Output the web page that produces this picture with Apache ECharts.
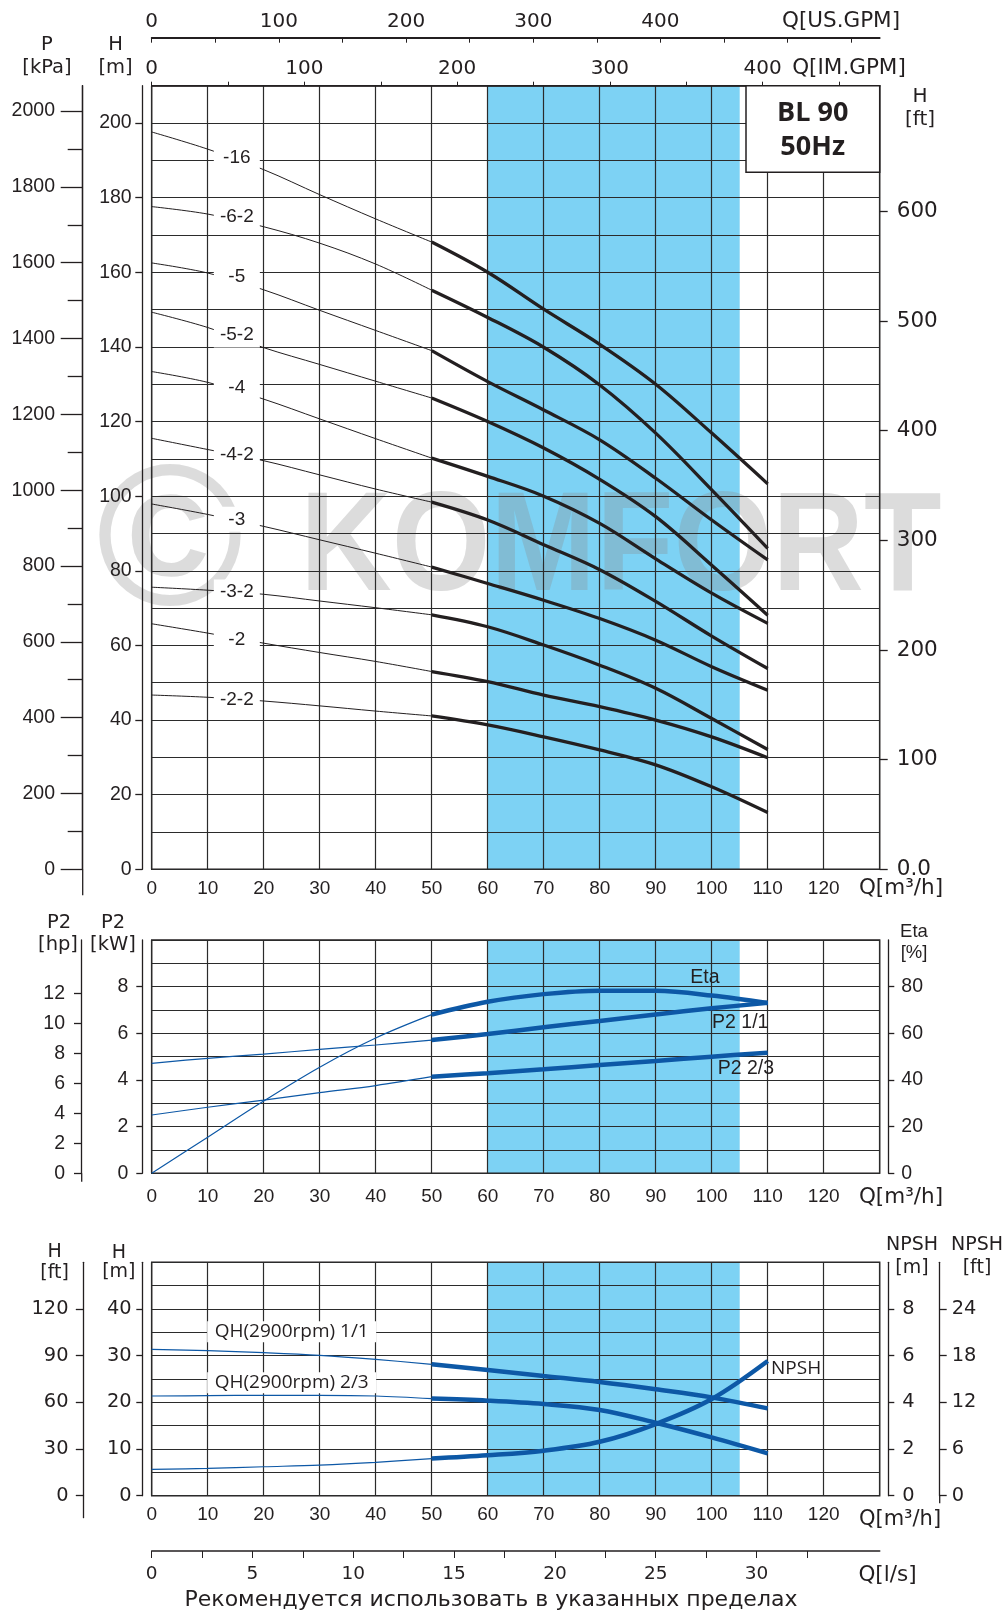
<!DOCTYPE html>
<html><head><meta charset="utf-8">
<script src="https://cdn.jsdelivr.net/npm/echarts@6/dist/echarts.min.js"></script>
<style>html,body{margin:0;padding:0;background:#fff}#c{width:1004px;height:1615px}</style>
</head><body><div id="c"></div>
<script>
// ===================== DATA =====================
const Q = [0, 10, 20, 30, 40, 50, 60, 70, 80, 90, 100, 110];   // m3/h
const THICK_FROM = 5;            // index where the bold (working) part starts (Q = 50)
const BAND = [60, 105];          // recommended range, m3/h

// head curves H[m] (top chart)
const CURVE_NAMES = ['-16', '-6-2', '-5', '-5-2', '-4', '-4-2', '-3', '-3-2', '-2', '-2-2'];
const H_16  = [197.6, 193.0, 187.5, 180.8, 174.3, 168.1, 160.0, 150.1, 140.7, 130.0, 116.9, 103.3];
const H_6_2 = [177.6, 175.6, 172.2, 167.8, 162.2, 155.2, 147.9, 139.9, 129.8, 116.9, 101.7, 86.0];
const H_5   = [162.5, 159.8, 155.3, 149.8, 144.4, 139.0, 130.7, 123.1, 115.1, 104.8, 93.6, 82.9];
const H_5_2 = [149.3, 145.2, 139.8, 135.3, 130.8, 126.3, 120.0, 112.9, 104.5, 94.5, 81.5, 68.1];
const H_4   = [133.4, 130.5, 126.0, 120.7, 115.4, 110.2, 105.3, 100.0, 92.7, 83.2, 74.0, 65.9];
const H_4_2 = [115.5, 112.5, 109.5, 105.7, 101.9, 98.4, 93.6, 87.0, 80.3, 71.8, 62.5, 53.8];
const H_3   = [97.9, 95.1, 91.9, 88.3, 84.7, 81.0, 76.6, 72.1, 67.2, 61.4, 54.3, 48.0];
const H_3_2 = [75.6, 74.8, 73.7, 71.9, 70.1, 68.2, 65.0, 60.1, 54.7, 48.5, 40.4, 32.1];
const H_2   = [65.8, 63.3, 60.6, 58.1, 55.7, 53.0, 50.3, 46.7, 43.6, 40.0, 35.5, 29.9];
const H_2_2 = [46.7, 46.1, 45.1, 43.8, 42.4, 41.1, 38.7, 35.5, 32.0, 28.0, 22.1, 15.2];
const HEAD_CURVES = [H_16, H_6_2, H_5, H_5_2, H_4, H_4_2, H_3, H_3_2, H_2, H_2_2];
const CURVE_LABEL_Q = 15.2;
const CURVE_LABEL_H = [190.6, 174.8, 158.9, 143.2, 129.0, 111.0, 93.8, 74.3, 61.6, 45.5];

// power / efficiency (middle chart)
const ETA     = [0, 15.5, 31, 45.5, 58, 68, 73.5, 76.8, 78.3, 78.2, 76.2, 73.0];   // %
const P2_FULL = [4.71, 4.93, 5.11, 5.31, 5.50, 5.71, 5.97, 6.26, 6.53, 6.81, 7.07, 7.31]; // kW
const P2_23   = [2.50, 2.83, 3.14, 3.46, 3.76, 4.14, 4.29, 4.46, 4.64, 4.81, 5.00, 5.17]; // kW
const MID_LABELS = [ { name: 'Eta', q: 98.8, kw: 8.38 }, { name: 'P2 1/1', q: 105.1, kw: 6.44 }, { name: 'P2 2/3', q: 106.1, kw: 4.47 } ];

// single stage head and NPSH (bottom chart)
const QH_FULL = [31.36, 31.07, 30.64, 30.07, 29.2, 28.14, 26.93, 25.64, 24.36, 22.8, 21.07, 18.7]; // m
const QH_23   = [21.36, 21.43, 21.5, 21.5, 21.36, 20.8, 20.36, 19.64, 18.36, 15.64, 12.5, 9.07]; // m
const NPSH    = [1.13, 1.17, 1.24, 1.31, 1.43, 1.59, 1.73, 1.93, 2.31, 3.07, 4.14, 5.77];       // m
const BOT_LABELS = [ { name: 'QH(2900rpm) 1/1', q: 25, h: 35.1 }, { name: 'QH(2900rpm) 2/3', q: 25, h: 24.2 } ];
const NPSH_LABEL = { name: 'NPSH', q: 110.6, npsh: 5.46 };

// axis ranges & tick labels
const Q_MAX = 130;
const IMGPM_PER_M3H = 3.6662, USGPM_PER_M3H = 4.4029, LS_PER_M3H = 1 / 3.6;
const TICK_Q = [0, 10, 20, 30, 40, 50, 60, 70, 80, 90, 100, 110, 120];
const TICK_IMGPM = [0, 50, 100, 150, 200, 250, 300, 350, 400, 450];
const LABEL_IMGPM = [0, 100, 200, 300, 400];
const TICK_USGPM = [0, 50, 100, 150, 200, 250, 300, 350, 400, 450, 500, 550];
const LABEL_USGPM = [0, 100, 200, 300, 400];
const TICK_LS = [0, 2.5, 5, 7.5, 10, 12.5, 15, 17.5, 20, 22.5, 25, 27.5, 30, 32.5];
const LABEL_LS = [0, 5, 10, 15, 20, 25, 30];

const H_MAX = 210, KPA_MAX = 2067, FT_MAX = 714.5;
const TICK_H = [0, 20, 40, 60, 80, 100, 120, 140, 160, 180, 200];
const TICK_KPA = [0, 200, 400, 600, 800, 1000, 1200, 1400, 1600, 1800, 2000];
const TICK_KPA_MINOR = [100, 300, 500, 700, 900, 1100, 1300, 1500, 1700, 1900];
const TICK_FT = [0, 100, 200, 300, 400, 500, 600];

const KW_MAX = 10, HP_MAX = 15.556, ETA_MAX = 100;
const TICK_KW = [0, 2, 4, 6, 8];
const TICK_HP = [0, 2, 4, 6, 8, 10, 12];
const TICK_ETA = [0, 20, 40, 60, 80];

const H2_MAX = 50, HFT2_MAX = 150, NPSH_MAX = 10, NPSHFT_MAX = 30;
const TICK_H2 = [0, 10, 20, 30, 40];
const TICK_HFT2 = [0, 30, 60, 90, 120];
const TICK_NPSH = [0, 2, 4, 6, 8];
const TICK_NPSHFT = [0, 6, 12, 18, 24];

// ===================== STYLE / LAYOUT =====================
const INK = '#231f20', GRIDC = '#2b2b2b', BAND_COLOR = '#7dd2f4', BLUE = '#0d58a6';
const AR = "'Liberation Sans', Arial, sans-serif";
const DV = "'DejaVu Sans', sans-serif";
const OS = "'Open Sans', 'Noto Sans', sans-serif";
const GL = 151.7, GW = 728;
const G = [ { top: 85.7, h: 783.6 }, { top: 940, h: 233.3 }, { top: 1262.3, h: 233.4 } ];
const plain = v => String(v);

function xAxisQ(gi, margin) {
  return { type: 'value', gridIndex: gi, position: 'bottom', min: 0, max: Q_MAX, interval: 10, z: 2,
    axisLine: { show: false, onZero: false }, axisTick: { show: false },
    axisLabel: { customValues: TICK_Q, margin: margin, fontFamily: AR, fontSize: 19, color: INK, formatter: plain },
    splitLine: { show: true, lineStyle: { color: GRIDC, width: 1.2 } } };
}
function gridY(gi, max, step) {
  return { type: 'value', gridIndex: gi, min: 0, max: max, interval: step, z: 2,
    axisLine: { show: false, onZero: false }, axisTick: { show: false }, axisLabel: { show: false },
    splitLine: { show: true, lineStyle: { color: GRIDC, width: 1.2 } } };
}
function labY(gi, pos, offset, max, ticks, tickLen, margin, font, size, extra) {
  const a = { type: 'value', gridIndex: gi, position: pos, offset: offset, min: 0, max: max, z: 2,
    axisLine: { show: true, onZero: false, lineStyle: { color: INK, width: 1.3 } },
    axisTick: { show: tickLen > 0, customValues: ticks, length: tickLen, lineStyle: { color: INK, width: 1.3 } },
    axisLabel: { show: true, customValues: ticks, margin: margin, fontFamily: font, fontSize: size, color: INK, formatter: plain },
    splitLine: { show: false } };
  return Object.assign(a, extra || {});
}

const xAxes = [
  xAxisQ(0, 10),                                                                    // 0
  { type: 'value', gridIndex: 0, position: 'top', min: 0, max: Q_MAX * IMGPM_PER_M3H, z: 2,   // 1
    axisLine: { show: true, onZero: false, lineStyle: { color: INK, width: 1.6 } },
    axisTick: { show: true, customValues: TICK_IMGPM, length: 4, lineStyle: { color: INK } },
    axisLabel: { customValues: LABEL_IMGPM, margin: 7, fontFamily: DV, fontSize: 20, color: INK, formatter: plain },
    splitLine: { show: false } },
  { type: 'value', gridIndex: 0, position: 'top', offset: 48, min: 0, max: Q_MAX * USGPM_PER_M3H, z: 2, // 2
    axisLine: { show: true, onZero: false, lineStyle: { color: INK, width: 1.8 } },
    axisTick: { show: true, inside: true, customValues: TICK_USGPM, length: 5, lineStyle: { color: INK } },
    axisLabel: { customValues: LABEL_USGPM, margin: 6, fontFamily: DV, fontSize: 20, color: INK, formatter: plain },
    splitLine: { show: false } },
  xAxisQ(1, 14),                                                                    // 3
  xAxisQ(2, 10),                                                                    // 4
  { type: 'value', gridIndex: 2, position: 'bottom', offset: 55.3, min: 0, max: Q_MAX * LS_PER_M3H, z: 2, // 5
    axisLine: { show: true, onZero: false, lineStyle: { color: INK, width: 1.6 } },
    axisTick: { show: true, customValues: TICK_LS, length: 7, lineStyle: { color: INK } },
    axisLabel: { customValues: LABEL_LS, margin: 14, fontFamily: DV, fontSize: 18.5, color: INK, formatter: plain },
    splitLine: { show: false } }
];

const yAxes = [
  gridY(0, H_MAX, 10),                                                              // 0
  labY(0, 'left', 9.4, H_MAX, TICK_H, 7, 10.6, AR, 19.5),                            // 1 H[m]
  labY(0, 'left', 69, KPA_MAX, TICK_KPA_MINOR, 15, 27.7, AR, 19.5, {}),               // 2 minor ticks
  labY(0, 'left', 69, KPA_MAX, TICK_KPA, 22, 27.7, AR, 19.5),                        // 3 P[kPa]
  labY(0, 'right', 0, FT_MAX, TICK_FT, 8, 17, DV, 21.5),                             // 4 H[ft]
  gridY(1, KW_MAX, 1),                                                              // 5
  labY(1, 'left', 9.4, KW_MAX, TICK_KW, 6, 14, AR, 19.5),                            // 6 kW
  labY(1, 'left', 70, HP_MAX, TICK_HP, 7.7, 16.7, AR, 19.5),                         // 7 hp
  labY(1, 'right', 8.6, ETA_MAX, TICK_ETA, 6, 13, AR, 19.5),                         // 8 Eta
  gridY(2, H2_MAX, 5),                                                              // 9
  labY(2, 'left', 9.4, H2_MAX, TICK_H2, 6, 10.6, DV, 19.4),                          // 10 H[m]
  labY(2, 'left', 68.2, HFT2_MAX, TICK_HFT2, 7.7, 15, DV, 19.4),                     // 11 H[ft]
  labY(2, 'right', 8.6, NPSH_MAX, TICK_NPSH, 6, 14, DV, 19.4),                       // 12 NPSH m
  labY(2, 'right', 60, NPSHFT_MAX, TICK_NPSHFT, 7, 12, DV, 19.4)                     // 13 NPSH ft
];
yAxes[2].axisLabel.show = false;
yAxes[4].axisLine.show = false;
yAxes[4].axisLabel.formatter = v => (v === 0 ? '0.0' : String(v));

// ----- series -----
function band(xi, yi) {
  return { type: 'line', xAxisIndex: xi, yAxisIndex: yi, data: [], z: 0, silent: true,
    markArea: { silent: true, itemStyle: { color: BAND_COLOR }, data: [[{ xAxis: BAND[0] }, { xAxis: BAND[1] }]] } };
}
function curve(xs, ys, xi, yi, color, wThin, wThick) {
  const pts = xs.map((x, i) => [x, ys[i]]);
  const base = { type: 'line', xAxisIndex: xi, yAxisIndex: yi, showSymbol: false, symbol: 'none',
    smooth: 0.35, z: 3, silent: true };
  return [
    Object.assign({}, base, { data: pts.slice(0, THICK_FROM + 1), lineStyle: { color: color, width: wThin } }),
    Object.assign({}, base, { data: pts.slice(THICK_FROM), lineStyle: { color: color, width: wThick, cap: 'butt' } })
  ];
}
function labels(xi, yi, items, lbl) {
  return { type: 'scatter', xAxisIndex: xi, yAxisIndex: yi, symbolSize: 0, z: 6, silent: true,
    itemStyle: { opacity: 1 },
    data: items.map(d => ({ name: d.name, value: [d.x, d.y] })),
    label: Object.assign({ show: true, position: 'inside', formatter: p => p.name, color: INK, opacity: 1 }, lbl) };
}

const series = [band(0, 0), band(3, 5), band(4, 9)];
HEAD_CURVES.forEach(h => series.push(...curve(Q, h, 0, 1, INK, 1, 3.3)));
series.push(labels(0, 1, CURVE_NAMES.map((n, i) => ({ name: n, x: CURVE_LABEL_Q, y: CURVE_LABEL_H[i] })),
  { fontFamily: AR, fontSize: 19, backgroundColor: '#ffffff', width: 42, align: 'center', padding: [3, 2] }));

series.push(...curve(Q, ETA, 3, 8, BLUE, 1.2, 4.5));
series.push(...curve(Q, P2_FULL, 3, 6, BLUE, 1.2, 4.5));
series.push(...curve(Q, P2_23, 3, 6, BLUE, 1.2, 4.5));
series.push(labels(3, 6, MID_LABELS.map(d => ({ name: d.name, x: d.q, y: d.kw })),
  { fontFamily: AR, fontSize: 19.5 }));

series.push(...curve(Q, QH_FULL, 4, 10, BLUE, 1.2, 4.5));
series.push(...curve(Q, QH_23, 4, 10, BLUE, 1.2, 4.5));
series.push(...curve(Q, NPSH, 4, 12, BLUE, 1.2, 4.5));
series.push(labels(4, 10, BOT_LABELS.map(d => ({ name: d.name, x: d.q, y: d.h })),
  { fontFamily: OS, fontSize: 19, backgroundColor: '#ffffff', width: 161, align: 'center', padding: [1, 4] }));
series.push(labels(4, 12, [{ name: NPSH_LABEL.name, x: NPSH_LABEL.q, y: NPSH_LABEL.npsh }],
  { fontFamily: OS, fontSize: 19, position: 'right', distance: 0 }));

// ----- graphic texts (axis titles, caption, legend box, watermark) -----
function t(x, y, text, size, family, extra) {
  return Object.assign({ type: 'text', x: x, y: y, z: 8, silent: true,
    style: { text: text, fontSize: size, fontFamily: family, fill: INK, align: 'center', verticalAlign: 'middle' } }, extra || {});
}
function vline(x, y1, y2) {
  return { type: 'line', z: 8, silent: true, shape: { x1: x, y1: y1, x2: x, y2: y2 }, style: { stroke: INK, lineWidth: 1.3 } };
}
const WM = 'rgba(140,140,140,0.3)';
const graphics = [
  { type: 'text', x: 170, y: 549, z: 1.5, silent: true,
    style: { text: '©', fontSize: 200, fontFamily: AR, fontWeight: 'bold', fill: WM, align: 'center', verticalAlign: 'middle' } },
  { type: 'text', x: 300, y: 551, z: 1.5, silent: true, scaleX: 0.9,
    style: { text: 'KOMFORT', fontSize: 141, fontFamily: AR, fontWeight: 'bold', fill: WM, align: 'left', verticalAlign: 'middle' } },
  { type: 'rect', z: 9, silent: true, shape: { x: 746, y: 85.7, width: GL + GW - 746, height: 86.6 },
    style: { fill: '#fff', stroke: INK, lineWidth: 1.5 } },
  { type: 'text', x: 812.7, y: 113, z: 10, silent: true,
    style: { text: 'BL 90', fontSize: 27, fontWeight: 'bold', fontFamily: OS, fill: INK, align: 'center', verticalAlign: 'middle' } },
  { type: 'text', x: 812.7, y: 147, z: 10, silent: true,
    style: { text: '50Hz', fontSize: 27, fontWeight: 'bold', fontFamily: OS, fill: INK, align: 'center', verticalAlign: 'middle' } },
  // axis line extensions beyond the plotting area (as drawn in the original)
  vline(GL - 69, G[0].top + G[0].h, G[0].top + G[0].h + 26),
  vline(GL - 70, G[1].top + G[1].h, G[1].top + G[1].h + 8.5),
  vline(GL - 68.2, G[2].top + G[2].h, G[2].top + G[2].h + 22.5),
  vline(GL + GW + 60, G[2].top + G[2].h, G[2].top + G[2].h + 7.5),
  t(47, 45, 'P', 19.5, DV), t(47, 68, '[kPa]', 19.5, DV),
  t(115.6, 45, 'H', 19.5, DV), t(115.6, 68, '[m]', 19.5, DV),
  t(841, 21.7, 'Q[US.GPM]', 21.5, DV), t(849, 68, 'Q[IM.GPM]', 21.5, DV),
  t(920, 96.7, 'H', 20, DV), t(920, 120, '[ft]', 20, DV),
  t(901, 888, 'Q[m³/h]', 21.5, DV),
  t(59, 923.3, 'P2', 19.5, DV), t(58, 945, '[hp]', 19.5, DV),
  t(113, 923.3, 'P2', 19.5, DV), t(113, 945, '[kW]', 19.5, DV),
  t(914, 931.7, 'Eta', 18.5, AR), t(914, 953.3, '[%]', 18.5, AR),
  t(901, 1197, 'Q[m³/h]', 21.5, DV),
  t(54.6, 1251.7, 'H', 19, DV), t(54.6, 1273.3, '[ft]', 19, DV),
  t(118.8, 1253, 'H', 19, DV), t(118.8, 1271.7, '[m]', 19, DV),
  t(912, 1245, 'NPSH', 19, DV), t(912, 1268.3, '[m]', 19, DV),
  t(977, 1245, 'NPSH', 19, DV), t(977, 1268.3, '[ft]', 19, DV),
  t(900, 1520, 'Q[m³/h]', 21, DV),
  t(887.5, 1575, 'Q[l/s]', 21.5, DV),
  t(491, 1600, 'Рекомендуется использовать в указанных пределах', 22, DV)
];

const option = {
  animation: false,
  backgroundColor: '#fff',
  grid: G.map(g => ({ left: GL, width: GW, top: g.top, height: g.h, show: true, z: 2,
    borderColor: INK, borderWidth: 1.4, backgroundColor: 'transparent' })),
  xAxis: xAxes,
  yAxis: yAxes,
  series: series,
  graphic: { elements: graphics }
};
const chart = echarts.init(document.getElementById('c'), null, { renderer: 'canvas', width: 1004, height: 1615 });
chart.setOption(option);
</script>
</body></html>
